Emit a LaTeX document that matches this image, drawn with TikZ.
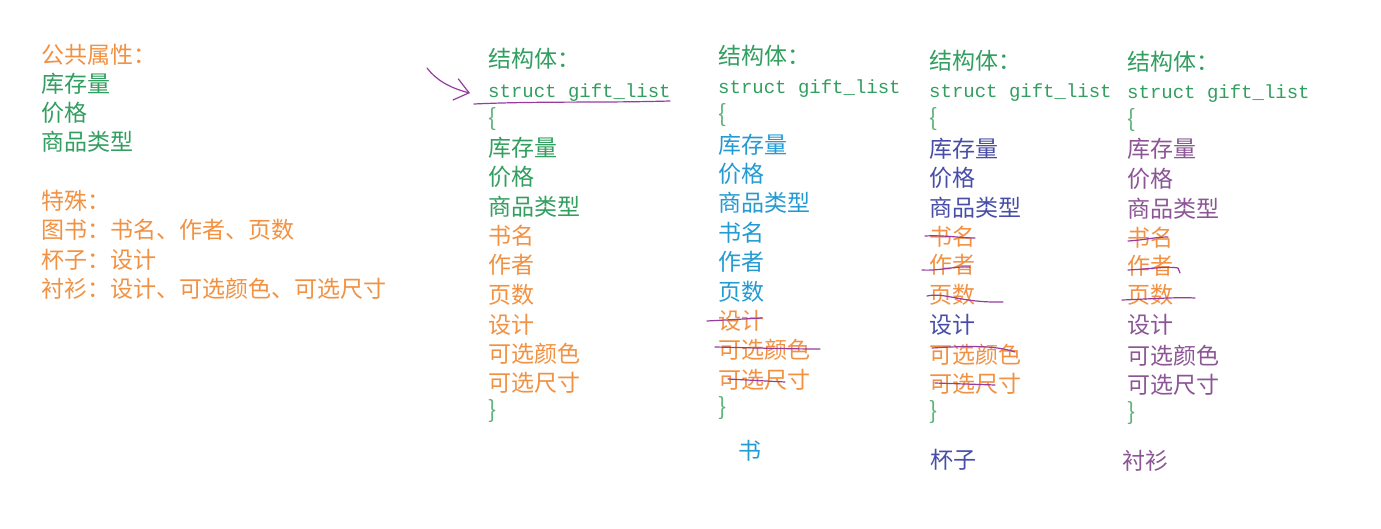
\documentclass[tikz,border=0pt]{standalone}
\usepackage{fontspec}
\newfontfamily\cjk{Noto Sans CJK SC}
\newfontfamily\monof{Liberation Mono}
\usetikzlibrary{arrows.meta}
\definecolor{cgreen}{RGB}{50,158,95}
\definecolor{cbrace}{RGB}{95,180,125}
\definecolor{corange}{RGB}{242,145,65}
\definecolor{cblue}{RGB}{35,155,210}
\definecolor{cindigo}{RGB}{72,78,168}
\definecolor{cpurple}{RGB}{140,85,150}
\definecolor{cpen}{RGB}{150,60,160}
\begin{document}
\begin{tikzpicture}[x=1pt,y=-1pt,
  t/.style={anchor=base west, inner sep=0pt, font=\cjk\fontsize{23}{23}\selectfont},
  code/.style={anchor=base west, inner sep=0pt, font=\monof\fontsize{19}{19}\selectfont, text=cgreen},
  br/.style={t, text=cbrace, font=\cjk\fontsize{24}{24}\selectfont},
  gr/.style={t, text=cgreen},
  og/.style={t, text=corange},
  bl/.style={t, text=cblue},
  ind/.style={t, text=cindigo},
  pu/.style={t, text=cpurple},
  pen/.style={draw=cpen, line width=1.2pt, line cap=round},
]
\useasboundingbox (0,0) rectangle (1381,529);
\fill[white] (0,0) rectangle (1381,529);

\begin{scope}[yshift=-2pt]
% left column
\node[og] (pubhdr) at (41,62) {公共属性：};
\node[gr] (pub1) at (41,91) {库存量};
\node[gr] (pub2) at (41,120) {价格};
\node[gr] (pub3) at (41,149) {商品类型};
\node[og] (sphdr) at (41,208) {特殊：};
\node[og] (sp1) at (41,237) {图书：书名、作者、页数};
\node[og] (sp2) at (41,267) {杯子：设计};
\node[og] (sp3) at (41,296) {衬衫：设计、可选颜色、可选尺寸};

% column 1
\node[gr] (a0) at (488,66) {结构体：};
\node[code] (as) at (488,96) {struct gift\_list};
\node[br] (ao) at (488,125) {\{};
\node[gr] (a1) at (488,155) {库存量};
\node[gr] (a2) at (488,184) {价格};
\node[gr] (a3) at (488,214) {商品类型};
\node[og] (a4) at (488,243) {书名};
\node[og] (a5) at (488,272) {作者};
\node[og] (a6) at (488,302) {页数};
\node[og] (a7) at (488,331) {设计};
\node[og] (a8) at (488,360) {可选颜色};
\node[og] (a9) at (488,389) {可选尺寸};
\node[br] (ac) at (488,416) {\}};

% column 2
\node[gr] (b0) at (718,63) {结构体：};
\node[code] (bs) at (718,92) {struct gift\_list};
\node[br] (bo) at (718,121) {\{};
\node[bl] (b1) at (718,152) {库存量};
\node[bl] (b2) at (718,181) {价格};
\node[bl] (b3) at (718,210) {商品类型};
\node[bl] (b4) at (718,240) {书名};
\node[bl] (b5) at (718,269) {作者};
\node[bl] (b6) at (718,299) {页数};
\node[og] (b7) at (718,327) {设计};
\node[og] (b8) at (718,356) {可选颜色};
\node[og] (b9) at (718,386) {可选尺寸};
\node[br] (bc) at (718,413) {\}};
\node[bl] (bl) at (738,457) {书};

% column 3
\node[gr] (c0) at (929,68) {结构体：};
\node[code] (cs) at (929,96) {struct gift\_list};
\node[br] (co) at (929,125) {\{};
\node[ind] (c1) at (929,156) {库存量};
\node[ind] (c2) at (929,185) {价格};
\node[ind] (c3) at (929,215) {商品类型};
\node[og] (c4) at (929,244) {书名};
\node[og] (c5) at (929,272) {作者};
\node[og] (c6) at (929,302) {页数};
\node[ind] (c7) at (929,331) {设计};
\node[og] (c8) at (929,361) {可选颜色};
\node[og] (c9) at (929,390) {可选尺寸};
\node[br] (cc) at (929,417) {\}};
\node[ind] (cl) at (930,466) {杯子};

% column 4
\node[gr] (d0) at (1127,69) {结构体：};
\node[code] (ds) at (1127,97) {struct gift\_list};
\node[br] (do) at (1127,126) {\{};
\node[pu] (d1) at (1127,156) {库存量};
\node[pu] (d2) at (1127,186) {价格};
\node[pu] (d3) at (1127,216) {商品类型};
\node[og] (d4) at (1127,245) {书名};
\node[og] (d5) at (1127,273) {作者};
\node[og] (d6) at (1127,302) {页数};
\node[pu] (d7) at (1127,332) {设计};
\node[pu] (d8) at (1127,362) {可选颜色};
\node[pu] (d9) at (1127,391) {可选尺寸};
\node[br] (dc) at (1127,418) {\}};
\node[pu] (dl) at (1122,467) {衬衫};
\end{scope}

% arrow and underline on column 1
\coordinate (arrstart) at (427,68);
\draw[pen, -{Straight Barb[length=14pt,width=22pt,line width=1.2pt]}]
  (arrstart) .. controls (436,80) and (450,88) .. ([xshift=-18pt]as.west);
\draw[pen] (474,104) .. controls (540,101) and (600,103) .. (670,101);

% strikes column 2
\draw[pen] (707,321) -- (762,318);
\draw[pen] (715,347) .. controls (760,348) and (790,349) .. (820,349);
\draw[pen] (728,379) -- (785,382);

% strikes column 3
\draw[pen] (925,236) .. controls (945,235) and (960,238) .. (975,238);
\draw[pen] (922,270) .. controls (940,271) and (955,266) .. (970,267);
\draw[pen] (927,296) .. controls (945,292) and (960,303) .. (1003,302);
\draw[pen] (932,348) .. controls (965,346) and (995,345) .. (1015,352);
\draw[pen] (935,383) -- (995,385);

% strikes column 4
\draw[pen] (1128,241) .. controls (1145,240) and (1155,237) .. (1168,237);
\draw[pen] (1128,270) .. controls (1150,269) and (1168,266) .. (1178,268) -- (1180,273);
\draw[pen] (1122,300) .. controls (1150,299) and (1175,297) .. (1195,298);
\end{tikzpicture}
\end{document}
